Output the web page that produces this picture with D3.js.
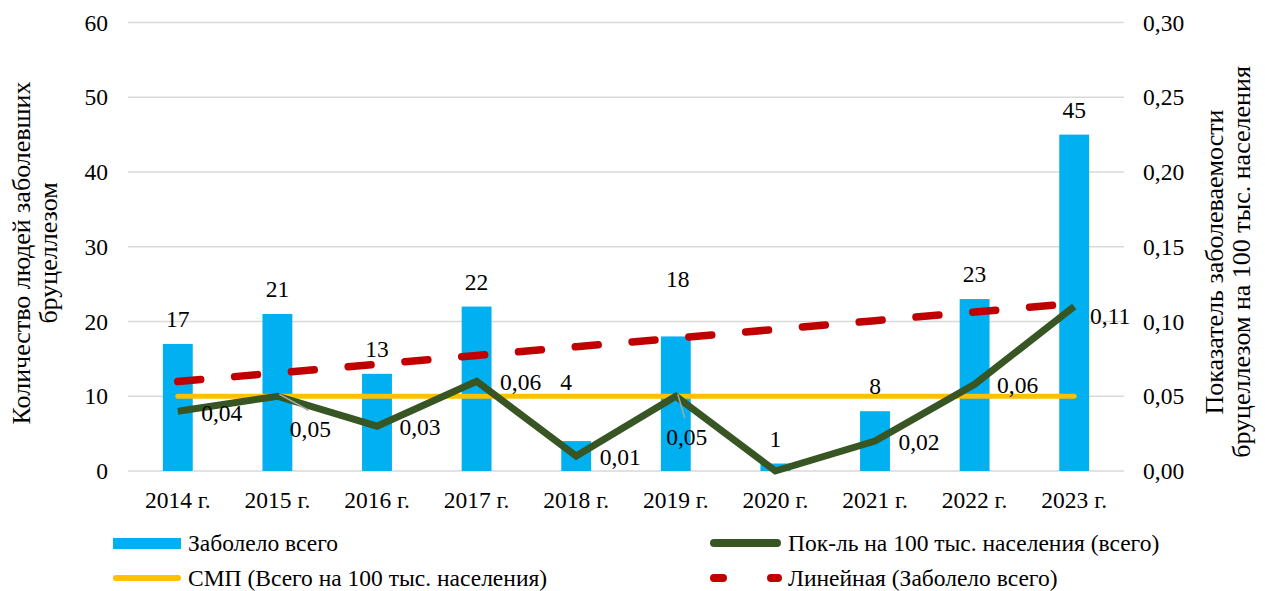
<!DOCTYPE html>
<html>
<head>
<meta charset="utf-8">
<script src="https://cdn.jsdelivr.net/npm/d3@7"></script>
<style>
  body { margin: 0; background: #fff; }
  svg text { font-family: "Liberation Serif", "Times New Roman", serif; fill: #000; }
</style>
</head>
<body>
<svg id="chart" width="1265" height="591"></svg>
<script>
// data
var years = ["2014 г.", "2015 г.", "2016 г.", "2017 г.", "2018 г.", "2019 г.", "2020 г.", "2021 г.", "2022 г.", "2023 г."];
var cases = [17, 21, 13, 22, 4, 18, 1, 8, 23, 45];
var rate = [0.04, 0.05, 0.03, 0.06, 0.01, 0.05, 0.00, 0.02, 0.058, 0.11];
var smp = [0.05, 0.05, 0.05, 0.05, 0.05, 0.05, 0.05, 0.05, 0.05, 0.05];
var leftTicks = [0, 10, 20, 30, 40, 50, 60];
var rightTicks = [0, 0.05, 0.10, 0.15, 0.20, 0.25, 0.30];

// label nudges (dx, dy) as placed in the original
var caseLabelNudge = [[0, 0], [0, 0], [0, 0], [0, 0], [-10, -34], [2, -32], [0, 0], [0, 0], [0, 0], [0, 0]];
var rateLabelNudge = [[44, 10], [33, 41], [43, 9], [44, 9], [44, 9], [11, 49], [0, 0], [44, 9], [43, 9], [36, 17]];
var leaders = [1, 5];

var margins = {top: 22.5, left: 128, right: 141, bottom: 120};
var width = 1265 - margins.left - margins.right,
    height = 471 - margins.top,
    fs = "23.5px";

var svg = d3.select("#chart");
var g = svg.append("g").attr("transform", "translate(" + margins.left + "," + margins.top + ")");

var x = d3.scaleBand().domain(years).range([0, width]).paddingInner(0.7).paddingOuter(0.35);
var xc = function(i) { return x(years[i]) + x.bandwidth() / 2; };
var yL = d3.scaleLinear().domain([0, 60]).range([height, 0]);
var yR = d3.scaleLinear().domain([0, 0.30]).range([height, 0]);
var fmt2 = function(v) { return d3.format(".2f")(v).replace(".", ","); };

// grid
g.selectAll("line.grid").data(leftTicks).enter().append("line")
    .attr("class", "grid")
    .attr("x1", 0).attr("x2", width)
    .attr("y1", function(d) { return yL(d); })
    .attr("y2", function(d) { return yL(d); })
    .attr("stroke", "#d9d9d9").attr("stroke-width", 1.5);

// axes
var leftAxis = g.append("g").call(d3.axisLeft(yL).tickValues(leftTicks).tickSize(0).tickPadding(20));
var rightAxis = g.append("g").attr("transform", "translate(" + width + ",0)")
    .call(d3.axisRight(yR).tickValues(rightTicks).tickSize(0).tickPadding(19).tickFormat(fmt2));
var bottomAxis = g.append("g").attr("transform", "translate(0," + height + ")")
    .call(d3.axisBottom(x).tickSize(0).tickPadding(20.5));
[leftAxis, rightAxis, bottomAxis].forEach(function(a) {
    a.select(".domain").remove();
    a.selectAll("text").style("font-size", fs).style("font-family", "Liberation Serif");
});

// bars
g.selectAll("rect.bar").data(cases).enter().append("rect")
    .attr("class", "bar")
    .attr("x", function(d, i) { return x(years[i]); })
    .attr("width", x.bandwidth())
    .attr("y", function(d) { return yL(d); })
    .attr("height", function(d) { return height - yL(d); })
    .attr("fill", "#00b0f0");

// SMP line
var smpLine = d3.line().x(function(d, i) { return xc(i); }).y(function(d) { return yR(d); });
g.append("path").attr("d", smpLine(smp))
    .attr("fill", "none").attr("stroke", "#ffc000").attr("stroke-width", 5).attr("stroke-linecap", "round");

// linear trend of cases (least squares, like Excel's trendline)
var xs = cases.map(function(d, i) { return i + 1; });
var mx = d3.mean(xs), my = d3.mean(cases);
var slope = d3.sum(xs, function(v, i) { return (v - mx) * (cases[i] - my); }) / d3.sum(xs, function(v) { return (v - mx) * (v - mx); });
var icept = my - slope * mx;
var trend = xs.map(function(v) { return icept + slope * v; });
var trendLine = d3.line().x(function(d, i) { return xc(i); }).y(function(d) { return yL(d); });
g.append("path").attr("d", trendLine(trend))
    .attr("fill", "none").attr("stroke", "#c00000").attr("stroke-width", 7.5)
    .attr("stroke-linecap", "round").attr("stroke-dasharray", "23,34");

// rate line
var rateLine = d3.line().x(function(d, i) { return xc(i); }).y(function(d) { return yR(d); });
g.append("path").attr("d", rateLine(rate))
    .attr("fill", "none").attr("stroke", "#375623").attr("stroke-width", 7)
    .attr("stroke-linejoin", "miter");

// leader lines for moved labels
leaders.forEach(function(i) {
    g.append("line")
        .attr("x1", xc(i) + 2).attr("y1", yR(rate[i]) - 2)
        .attr("x2", xc(i) + rateLabelNudge[i][0] - 2).attr("y2", yR(rate[i]) + rateLabelNudge[i][1] - 27)
        .attr("stroke", "#a6a6a6").attr("stroke-width", 1.5);
});

// case labels
g.selectAll("text.clab").data(cases).enter().append("text")
    .attr("class", "clab")
    .attr("x", function(d, i) { return xc(i) + caseLabelNudge[i][0]; })
    .attr("y", function(d, i) { return yL(d) - 17 + caseLabelNudge[i][1]; })
    .attr("text-anchor", "middle")
    .style("font-size", fs)
    .text(function(d) { return d; });

// rate labels (the 2020 zero has no label in the original)
g.selectAll("text.rlab").data(rate).enter().append("text")
    .attr("class", "rlab")
    .attr("x", function(d, i) { return xc(i) + rateLabelNudge[i][0]; })
    .attr("y", function(d, i) { return yR(d) + rateLabelNudge[i][1]; })
    .attr("text-anchor", "middle")
    .style("font-size", fs)
    .text(function(d, i) { return i === 6 ? "" : fmt2(d); });

// axis titles
var titles = [
    {x: 30, y: 253, t: "Количество людей заболевших"},
    {x: 57, y: 253, t: "бруцеллезом"},
    {x: 1223, y: 262, t: "Показатель заболеваемости"},
    {x: 1250, y: 262, t: "бруцеллезом на 100 тыс. населения"}
];
titles.forEach(function(d) {
    svg.append("text")
        .attr("transform", "translate(" + d.x + "," + d.y + ") rotate(-90)")
        .attr("text-anchor", "middle").style("font-size", "26px")
        .text(d.t);
});

// legend
var leg = svg.append("g");
leg.append("rect").attr("x", 113).attr("y", 538).attr("width", 68).attr("height", 11).attr("fill", "#00b0f0");
leg.append("text").attr("x", 188).attr("y", 551).style("font-size", fs).text("Заболело всего");
leg.append("line").attr("x1", 714).attr("x2", 777).attr("y1", 543).attr("y2", 543)
    .attr("stroke", "#375623").attr("stroke-width", 8).attr("stroke-linecap", "round");
leg.append("text").attr("x", 788).attr("y", 551).style("font-size", fs).text("Пок-ль на 100 тыс. населения (всего)");
leg.append("line").attr("x1", 116).attr("x2", 178).attr("y1", 578).attr("y2", 578)
    .attr("stroke", "#ffc000").attr("stroke-width", 6).attr("stroke-linecap", "round");
leg.append("text").attr("x", 188).attr("y", 586).style("font-size", fs).text("СМП (Всего на 100 тыс. населения)");
leg.append("line").attr("x1", 714).attr("x2", 778).attr("y1", 578).attr("y2", 578)
    .attr("stroke", "#c00000").attr("stroke-width", 8).attr("stroke-linecap", "round")
    .attr("stroke-dasharray", "9,48");
leg.append("text").attr("x", 788).attr("y", 586).style("font-size", fs).text("Линейная (Заболело всего)");
</script>
</body>
</html>
